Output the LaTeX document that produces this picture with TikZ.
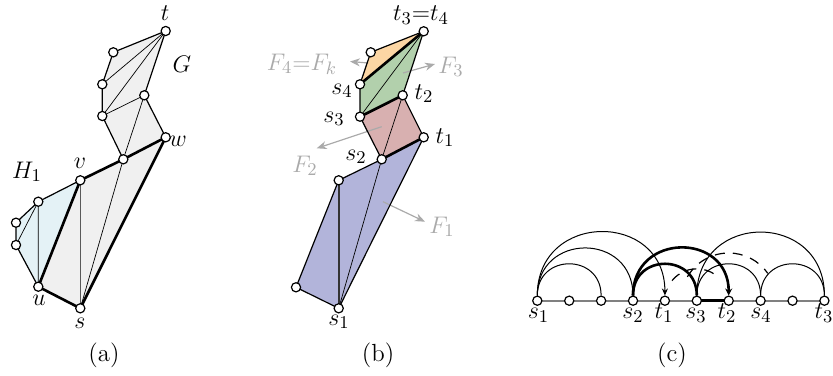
\documentclass[tikz,border=0pt]{standalone}
\usetikzlibrary{arrows.meta}
\definecolor{gfill}{RGB}{240,240,240}
\definecolor{hfill}{RGB}{228,242,246}
\definecolor{fone}{RGB}{178,180,218}
\definecolor{ftwo}{RGB}{216,176,176}
\definecolor{fthree}{RGB}{178,208,172}
\definecolor{ffour}{RGB}{252,214,164}
\definecolor{lgray}{RGB}{170,170,170}
\begin{document}
\begin{tikzpicture}[x=0.5pt,y=0.5pt,
  vtx/.style={circle,draw,fill=white,inner sep=0pt,minimum size=4.6pt,line width=0.6pt},
  edge/.style={line width=0.6pt},
  thinedge/.style={line width=0.35pt},
  thickedge/.style={line width=1.3pt},
  grayedge/.style={line width=0.6pt,black!65},
  farrow/.style={lgray,line width=0.6pt,-{Stealth[length=5pt,width=4pt]}},
  flabel/.style={text=lgray,inner sep=0pt,anchor=base,font=\fontsize{12.4}{15}\selectfont},
  lbl/.style={inner sep=0pt,anchor=base,font=\fontsize{12.4}{15}\selectfont},
  captxt/.style={inner sep=0pt,font=\fontsize{12.4}{15}\selectfont},
  arcedge/.style={line width=0.5pt},
  arcthick/.style={line width=1.3pt},
  baseln/.style={line width=1pt,black!50}]
\useasboundingbox (0,0) rectangle (833,-375);

% ---------------- panel (a) ----------------
\coordinate (t) at (165.7,-31);
\coordinate (a1) at (113.3,-52.3);
\coordinate (a2) at (102.3,-84.3);
\coordinate (a3) at (102.3,-116);
\coordinate (a4) at (144.3,-95.3);
\coordinate (w) at (165.7,-137.3);
\coordinate (m) at (123.3,-159.3);
\coordinate (v) at (80.3,-180.3);
\coordinate (h1) at (38.3,-201.7);
\coordinate (h2) at (16,-222.7);
\coordinate (h3) at (16,-245);
\coordinate (u) at (38.3,-286.7);
\coordinate (s) at (80.3,-308.3);

\fill[gfill] (t) -- (a1) -- (a2) -- (a3) -- (m) -- (v) -- (u) -- (s) -- (w) -- (a4) -- cycle;
\fill[hfill] (v) -- (h1) -- (h2) -- (h3) -- (u) -- cycle;

\draw[thinedge] (a2) -- (t) (a3) -- (t) (a3) -- (a4) (a4) -- (m) (m) -- (s) (h1) -- (h3) (h1) -- (u);
\draw[grayedge] (v) -- (s);
\draw[edge] (t) -- (a1) -- (a2) -- (a3) -- (m) (t) -- (a4) -- (w)
  (v) -- (h1) -- (h2) -- (h3) -- (u);
\draw[thickedge] (m) -- (v) -- (u) -- (s) -- (w) -- (m);

\foreach \p in {t,a1,a2,a3,a4,w,m,v,h1,h2,h3,u,s} \node[vtx] (n\p) at (\p) {};

\node[lbl] (lt) at (165,-20.5) {$t$};
\node[lbl] (lG) at (182,-72) {$G$};
\node[lbl] (lw) at (178,-146) {$w$};
\node[lbl] (lv) at (80,-168) {$v$};
\node[lbl] (lH) at (27,-178) {$H_1$};
\node[lbl] (lu) at (39,-305.5) {$u$};
\node[lbl] (ls) at (80,-328) {$s$};
\node[captxt] (capa) at (104,-355) {(a)};

% ---------------- panel (b) ----------------
\coordinate (T) at (423.7,-31.3);
\coordinate (B1) at (370.7,-52.3);
\coordinate (S4) at (360,-84.3);
\coordinate (S3) at (360,-116.7);
\coordinate (T2) at (402.7,-95.3);
\coordinate (T1) at (423.7,-137.3);
\coordinate (S2) at (381.7,-159.3);
\coordinate (B2) at (338.7,-180.3);
\coordinate (B3) at (296,-287.3);
\coordinate (S1) at (338.7,-308.3);

\fill[fone] (S1) -- (T1) -- (S2) -- (B2) -- (B3) -- cycle;
\fill[ftwo] (S2) -- (T1) -- (T2) -- (S3) -- cycle;
\fill[fthree] (S3) -- (T2) -- (T) -- (S4) -- cycle;
\fill[ffour] (S4) -- (T) -- (B1) -- cycle;

\coordinate (f4a) at (368,-63);  \coordinate (f4b) at (350,-61.5);
\coordinate (f3a) at (403,-73);  \coordinate (f3b) at (435,-64);
\coordinate (f2a) at (381.7,-126.7); \coordinate (f2b) at (316.7,-148.3);
\coordinate (f1a) at (383,-201.7); \coordinate (f1b) at (425,-221.7);
\draw[farrow] (f4a) -- (f4b);
\draw[farrow] (f3a) -- (f3b);
\draw[farrow] (f2a) -- (f2b);
\draw[farrow] (f1a) -- (f1b);

\draw[thinedge] (S2) -- (T2) (S2) -- (S1) (S3) -- (T);
\draw[line width=0.8pt,black!80] (B2) -- (S1);
\draw[edge] (T) -- (B1) -- (S4) -- (S3) -- (S2) -- (B2) -- (B3) -- (S1) -- (T1) -- (T2) -- (T);
\draw[thickedge] (S2) -- (T1) (S3) -- (T2) (S4) -- (T);

\foreach \p in {T,B1,S4,S3,T2,T1,S2,B2,B3,S1} \node[vtx] (n\p) at (\p) {};

\node[flabel] (lF4) at (302,-70) {$F_4{=}F_k$};
\node[flabel] (lF3) at (451,-73) {$F_3$};
\node[flabel] (lF2) at (305,-172) {$F_2$};
\node[flabel] (lF1) at (442,-233) {$F_1$};

\node[lbl] (lT) at (421,-20.5) {$t_3{=}t_4$};
\node[lbl] (lS4) at (342,-94) {$s_4$};
\node[lbl] (lS3) at (334,-122) {$s_3$};
\node[lbl] (lT2) at (424,-99) {$t_2$};
\node[lbl] (lT1) at (445,-143) {$t_1$};
\node[lbl] (lS2) at (356,-160) {$s_2$};
\node[lbl] (lS1) at (339,-325) {$s_1$};
\node[captxt] (capb) at (378,-355) {(b)};

% ---------------- panel (c) ----------------
\foreach \i in {0,...,9} \coordinate (p\i) at ({537.3+31.9*\i},-300.7);

\draw[baseln] (p0) -- (p9);
\draw[line width=1.3pt] (p5) -- (p6);

\foreach \i in {0,...,9} \node[vtx] (q\i) at (p\i) {};

\draw[arcedge] (q0) to[out=90,in=90,looseness=1.7] (q2);
\draw[arcedge] (q0) to[out=90,in=90,looseness=1.7] (q3);
\draw[arcedge,-{Stealth[length=3.5pt,width=3pt]}] (q0) to[out=90,in=90,looseness=1.7] (q4);
\draw[arcedge] (q5) to[out=90,in=90,looseness=1.7] (q7);
\draw[arcedge] (q5) to[out=90,in=90,looseness=1.7] (q9);
\draw[arcedge] (q7) to[out=90,in=90,looseness=1.7] (q9);
\draw[arcedge,dash pattern=on 5pt off 4pt,line width=0.6pt]
  ([shift={(141:31.9)}]p5) arc[start angle=141,end angle=45,radius=31.9];
\draw[arcedge,dash pattern=on 5pt off 4pt,line width=0.6pt]
  ([shift={(150:47.7)}]p6) arc[start angle=150,end angle=35,radius=47.7];
\draw[arcthick] (q3) to[out=90,in=90,looseness=1.7] (q5);
\draw[arcthick,-{Stealth[length=3.5pt,width=3.5pt]}] (q3) to[out=90,in=90,looseness=1.7] (q6);

\node[lbl] (ls1) at (538.5,-318.5) {$s_1$};
\node[lbl] (ls2) at (633,-318.5) {$s_2$};
\node[lbl] (lt1) at (664,-318.5) {$t_1$};
\node[lbl] (ls3) at (696,-318.5) {$s_3$};
\node[lbl] (lt2) at (727,-318.5) {$t_2$};
\node[lbl] (ls4) at (761,-318.5) {$s_4$};
\node[lbl] (lt3) at (824,-318.5) {$t_3$};
\node[captxt] (capc) at (672,-355) {(c)};
\end{tikzpicture}
\end{document}
